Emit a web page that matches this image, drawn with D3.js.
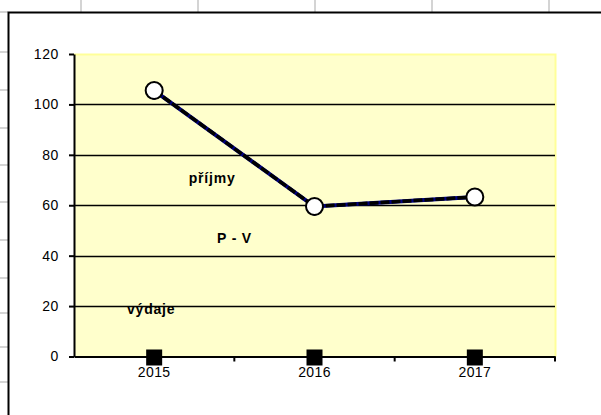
<!DOCTYPE html>
<html>
<head>
<meta charset="utf-8">
<script src="https://cdn.jsdelivr.net/npm/d3@7"></script>
<style>
  body { margin: 0; background: #fff; }
  svg { display: block; }
  text { font-family: "Liberation Sans", Arial, sans-serif; }
</style>
</head>
<body>
<div class="svg"></div>
<script>
var years = ['2015', '2016', '2017'];
var prijmy = [105.5, 59.5, 63.3];
var vydaje = [0, 0, 0];
var pv = [105.5, 59.5, 63.3];
var yTicks = [0, 20, 40, 60, 80, 100, 120];
var labels = [
  { text: 'příjmy', year: '2015', value: 69, dx: 58 },
  { text: 'P - V', year: '2016', value: 45, dx: -80 },
  { text: 'výdaje', year: '2015', value: 17, dx: -3 }
];

var W = 601, H = 415;
var svg = d3.select('div.svg').append('svg')
  .attr('width', W)
  .attr('height', H);

// spreadsheet grid behind the chart
var sheetCols = [81, 198, 315, 432, 549];
var sheetRows = [12, 52, 90, 128, 165, 202, 240, 278, 313, 347, 382];
svg.selectAll('line.col').data(sheetCols).enter().append('line')
  .attr('x1', function (d) { return d; }).attr('x2', function (d) { return d; })
  .attr('y1', 0).attr('y2', 12)
  .style('stroke', '#d4d4d4').style('stroke-width', 2);
svg.selectAll('line.row').data(sheetRows).enter().append('line')
  .attr('x1', 0).attr('x2', 8)
  .attr('y1', function (d) { return d; }).attr('y2', function (d) { return d; })
  .style('stroke', '#d4d4d4').style('stroke-width', 2);

// chart frame
svg.append('rect')
  .attr('x', 8.5).attr('y', 12.5)
  .attr('width', W + 10).attr('height', H + 10)
  .style('fill', '#fff').style('stroke', '#000').style('stroke-width', 2);

var pLeft = 74, pRight = 555, pTop = 54, pBottom = 356.5;

var x = d3.scaleBand().domain(years).range([pLeft, pRight]);
var y = d3.scaleLinear().domain([0, 120]).range([pBottom, pTop]);

// plot area
svg.append('rect')
  .attr('x', pLeft).attr('y', pTop)
  .attr('width', pRight - pLeft).attr('height', pBottom - pTop)
  .style('fill', '#ffffcc');
svg.append('path')
  .attr('d', 'M' + pLeft + ',' + (pTop + 0.5) + 'H' + (pRight + 0.5) + 'V' + pBottom)
  .style('fill', 'none').style('stroke', '#ffff99').style('stroke-width', 2);

// horizontal gridlines
svg.append('g')
  .selectAll('line').data(yTicks.slice(1, -1)).enter().append('line')
  .attr('x1', pLeft).attr('x2', pRight)
  .attr('y1', function (d) { return Math.round(y(d)) + 0.5; })
  .attr('y2', function (d) { return Math.round(y(d)) + 0.5; })
  .style('stroke', '#000').style('stroke-width', 1.5);

// y axis
var yAxis = svg.append('g')
  .attr('transform', 'translate(' + pLeft + ',0)')
  .call(d3.axisLeft(y).tickValues(yTicks).tickSize(5).tickPadding(10).tickSizeOuter(0));
yAxis.select('.domain').style('stroke', '#000').style('stroke-width', 2);
yAxis.selectAll('.tick line').style('stroke-width', 2);
yAxis.selectAll('text').style('font-size', '14px').style('letter-spacing', '0.6px').attr('fill', '#000');

// x axis
var xAxis = svg.append('g')
  .attr('transform', 'translate(0,' + pBottom + ')')
  .call(d3.axisBottom(x).tickSize(0).tickPadding(11));
xAxis.select('.domain').style('stroke', '#000').style('stroke-width', 2);
xAxis.selectAll('text').style('font-size', '14px').style('letter-spacing', '0.4px').attr('fill', '#000');
xAxis.selectAll('line.sep').data(years).enter().append('line')
  .attr('x1', function (d) { return x(d) + x.bandwidth(); })
  .attr('x2', function (d) { return x(d) + x.bandwidth(); })
  .attr('y1', 0).attr('y2', 5)
  .style('stroke', '#000').style('stroke-width', 2);

var cx = function (d, i) { return x(years[i]) + x.bandwidth() / 2; };

// lines
var line = d3.line()
  .x(function (d, i) { return cx(d, i); })
  .y(function (d) { return y(d); });
svg.append('path').datum(pv).attr('d', line)
  .style('fill', 'none').style('stroke', '#000080').style('stroke-width', 4);
svg.append('path').datum(prijmy).attr('d', line)
  .style('fill', 'none').style('stroke', '#000').style('stroke-width', 3.5)
  .style('stroke-dasharray', '9,2');

// small markers of P - V
svg.selectAll('path.pvm').data(pv).enter().append('path')
  .attr('d', function (d, i) {
    var px = cx(d, i), py = y(d);
    return 'M' + (px - 2) + ',' + (py + 8) + 'h4M' + (px + 8) + ',' + (py - 1) + 'v3';
  })
  .style('stroke', '#000080').style('stroke-width', 2);

// circles of příjmy
svg.selectAll('circle.p').data(prijmy).enter().append('circle')
  .attr('cx', cx)
  .attr('cy', function (d) { return y(d); })
  .attr('r', 8.5)
  .style('fill', '#fff').style('stroke', '#000').style('stroke-width', 2);

// squares of výdaje
svg.selectAll('rect.v').data(vydaje).enter().append('rect')
  .attr('x', function (d, i) { return cx(d, i) - 8; })
  .attr('y', function (d) { return y(d) - 7; })
  .attr('width', 16).attr('height', 16)
  .style('fill', '#000');

// series labels
svg.selectAll('text.lab').data(labels).enter().append('text')
  .attr('x', function (d) { return x(d.year) + x.bandwidth() / 2 + d.dx; })
  .attr('y', function (d) { return y(d.value); })
  .attr('text-anchor', 'middle')
  .style('font-size', '14px')
  .style('font-weight', 'bold')
  .style('letter-spacing', '0.8px')
  .text(function (d) { return d.text; });
</script>
</body>
</html>
